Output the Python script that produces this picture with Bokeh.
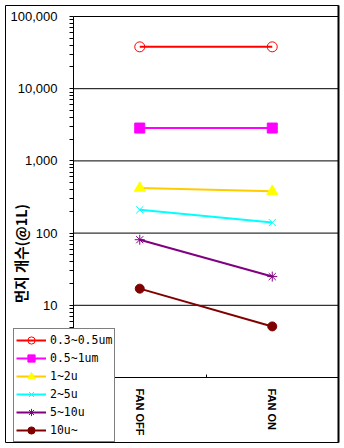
from math import pi
import math
from bokeh.plotting import figure
from bokeh.models import (Range1d, FixedTicker, LogAxis, Legend, LegendItem, Label,
                          NumeralTickFormatter)
from bokeh.embed import file_html
from bokeh.resources import INLINE

# ---- data ----
cats = ["FAN OFF", "FAN ON"]
series_names = ["0.3~0.5um", "0.5~1um", "1~2u", "2~5u", "5~10u", "10u~"]
s_03_05 = [38000, 38000]
s_05_1 = [2850, 2850]
s_1_2 = [420, 380]
s_2_5 = [210, 140]
s_5_10 = [81, 25]
s_10 = [17, 5.1]
y_major = [1, 10, 100, 1000, 10000, 100000]
y_title = "먼지 개수(@1L)"

xs = list(range(1, len(cats) + 1))

# ---- layout geometry (canvas pixels) ----
W, H = 344, 448
OUT_L, OUT_T, OUT_R, OUT_B = 5, 5, 338, 442      # outer chart box
PA_L, PA_T, PA_R, PA_B = 73, 16, 338, 377        # plot area
x_lo, x_hi = 0.5, len(cats) + 0.5
y_lo, y_hi = y_major[0], y_major[-1]
px_x = (PA_R - PA_L) / (x_hi - x_lo)
px_dec = (PA_B - PA_T) / (math.log10(y_hi) - math.log10(y_lo))
xr = Range1d(x_lo - (PA_L - OUT_L) / px_x, x_hi)
yr = Range1d(10 ** (math.log10(y_lo) - (OUT_B - PA_B) / px_dec),
             10 ** (math.log10(y_hi) + (PA_T - OUT_T) / px_dec))

p = figure(width=W, height=H, output_backend="svg", toolbar_location=None,
           x_range=xr, y_range=yr, y_axis_type="log",
           min_border_left=OUT_L, min_border_right=W - OUT_R,
           min_border_top=OUT_T, min_border_bottom=H - OUT_B)
p.background_fill_color = "white"
p.border_fill_color = "white"
p.outline_line_color = "black"
p.outline_line_width = 1
p.xgrid.visible = False
p.ygrid.visible = False

# horizontal gridlines across the plot area only
p.segment(x0=[x_lo] * len(y_major), x1=[x_hi] * len(y_major), y0=y_major, y1=y_major,
          line_color="black", line_width=1)

# y axis
minor = [k * 10 ** n for n in range(0, 5) for k in range(2, 10)]
yax = p.yaxis[0]
yax.fixed_location = x_lo
yax.bounds = (y_lo, y_hi)
yax.ticker = FixedTicker(ticks=y_major, minor_ticks=minor)
yax.formatter = NumeralTickFormatter(format="0,0")
yax.major_tick_in = 0
yax.major_tick_out = 4
yax.minor_tick_in = 0
yax.minor_tick_out = 4
yax.major_label_standoff = 12
yax.major_label_text_font = "Liberation Sans"
yax.major_label_text_font_size = "13px"
yax.major_label_text_color = "black"
yax.axis_line_color = "black"
yax.major_tick_line_color = "black"
yax.minor_tick_line_color = "black"

# x axis
xax = p.xaxis[0]
xax.fixed_location = y_lo
xax.bounds = (x_lo, x_hi)
xax.ticker = FixedTicker(ticks=xs, minor_ticks=[x + 0.5 for x in xs[:-1]])
xax.major_label_overrides = {x: c for x, c in zip(xs, cats)}
xax.major_tick_in = 0
xax.major_tick_out = 0
xax.minor_tick_in = 3
xax.minor_tick_out = 0
xax.major_label_orientation = "vertical"
xax.major_label_standoff = 11
xax.major_label_text_font = "Liberation Sans"
xax.major_label_text_font_style = "bold"
xax.major_label_text_font_size = "11px"
xax.major_label_text_color = "black"
xax.axis_line_color = "black"

# right border (thick)
rax = LogAxis(ticker=FixedTicker(ticks=[]), axis_line_width=2, axis_line_color="black",
              major_tick_in=0, major_tick_out=0, minor_tick_in=0, minor_tick_out=0,
              major_label_standoff=0)
p.add_layout(rax, "right")

items = []

def add_series(name, vals, line_color, line_width, marker, size, m_line, m_fill, m_lw=1):
    lr = p.line(xs, vals, line_color=line_color, line_width=line_width)
    sr = p.scatter(xs, vals, marker=marker, size=size, line_color=m_line,
                   fill_color=m_fill, line_width=m_lw)
    items.append(LegendItem(label=name, renderers=[lr, sr]))

add_series(series_names[0], s_03_05, "#FF0000", 2, "circle", 10, "#FF0000", None)
add_series(series_names[1], s_05_1, "#FF00FF", 2, "square", 10, "#FF00FF", "#FF00FF")
add_series(series_names[2], s_1_2, "#FFCC00", 2, "triangle", 11, "#FFFF00", "#FFFF00")
add_series(series_names[3], s_2_5, "#00FFFF", 2, "x", 10, "#00FFFF", None)
add_series(series_names[4], s_5_10, "#800080", 2, "asterisk", 10, "#800080", None)
add_series(series_names[5], s_10, "#800000", 2, "circle", 9, "#800000", "#800000")

legend = Legend(items=items, location=(13 - OUT_L, 0), border_line_color="black",
                border_line_width=1, background_fill_color="white",
                background_fill_alpha=1.0, label_text_font="DejaVu Sans Mono",
                label_text_font_size="11.5px", label_text_color="black",
                glyph_width=30, glyph_height=18, label_height=18, spacing=0,
                padding=2, margin=0, label_standoff=4)
p.add_layout(legend, "center")

# y title
p.add_layout(Label(x=19.5 - OUT_L, y=OUT_B - 253, x_units="screen", y_units="screen",
                   text=y_title, angle=pi / 2, text_align="center",
                   text_baseline="middle", text_font="Noto Sans CJK KR",
                   text_font_style="bold", text_font_size="14.5px", text_color="black"))

open("out.html", "w").write(file_html(p, INLINE))
